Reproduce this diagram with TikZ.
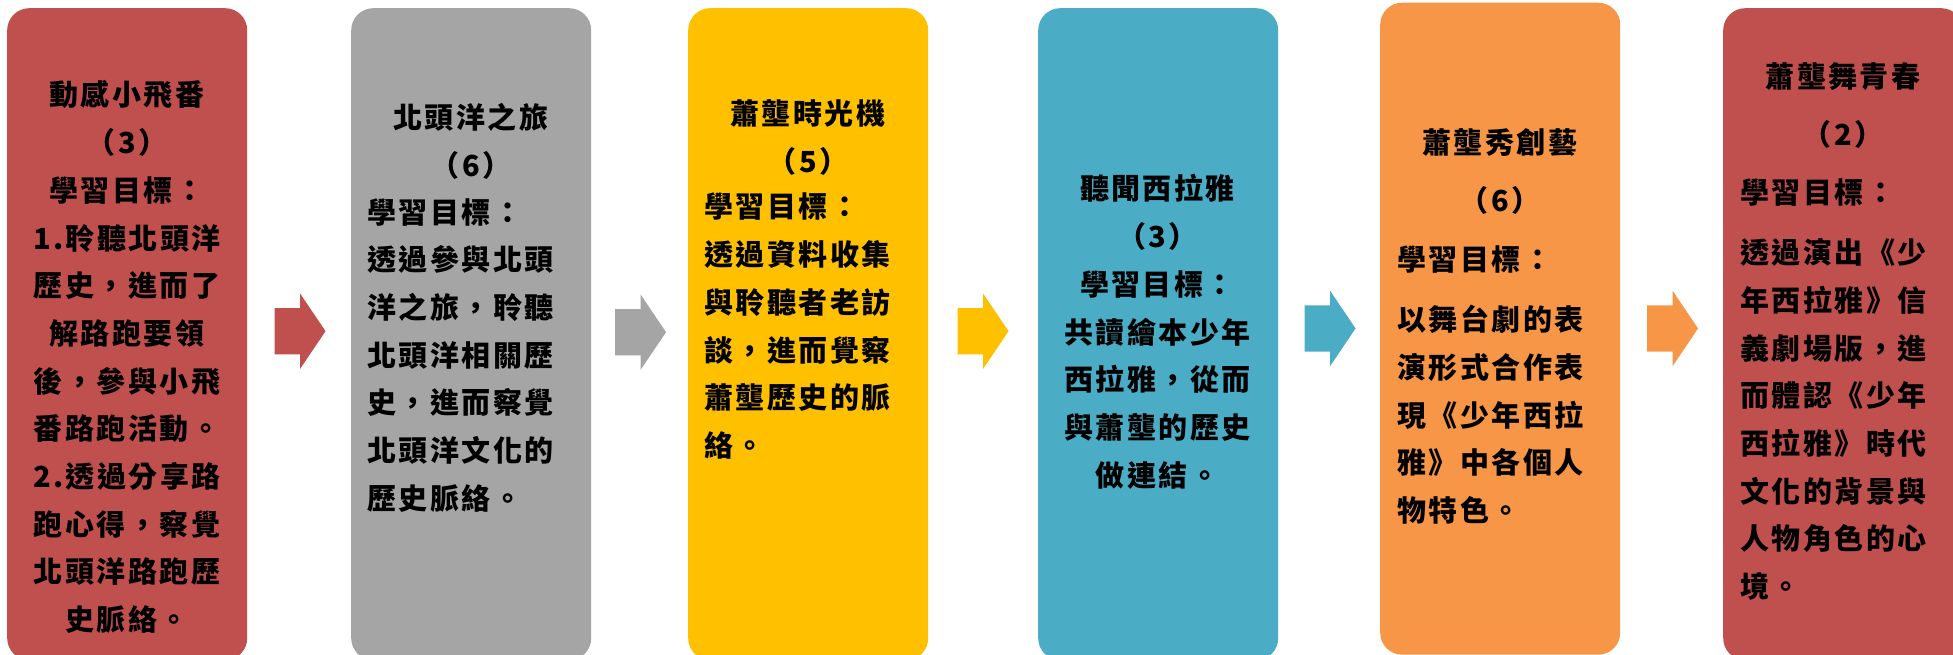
\documentclass[tikz,border=0pt]{standalone}
\usepackage{fontspec}
\usepackage{tikz}
\usetikzlibrary{shapes.arrows,positioning,calc}
\newfontfamily\cjk{Noto Sans CJK TC}[LetterSpace=8.6]
\definecolor{boxred}{HTML}{C0504D}
\definecolor{boxgray}{HTML}{A5A5A5}
\definecolor{boxgold}{HTML}{FFC000}
\definecolor{boxteal}{HTML}{4BACC6}
\definecolor{boxorange}{HTML}{F79646}

\begin{document}
\begin{tikzpicture}[x=1pt, y=-1pt,
    stage/.style={rounded corners=22pt, minimum width=240pt, minimum height=652pt,
                  anchor=north west, inner sep=0pt},
    flow/.style={single arrow, minimum height=51pt, inner xsep=0pt, inner ysep=23pt,
                 single arrow head extend=14.5pt, single arrow tip angle=112},
    words/.style={font=\cjk\bfseries\fontsize{29}{47.7}\selectfont, inner sep=0pt, text width=230pt},
    mid text/.style={words, align=center, anchor=base},
    left text/.style={words, align=left, anchor=base west}]
  \useasboundingbox (0,0) rectangle (1953,655);
  \node[stage, fill=boxred]    (b1) at (7,8) {};
  \node[stage, fill=boxgray]   (b2) at (351,8) {};
  \node[stage, fill=boxgold]   (b3) at (688,8) {};
  \node[stage, fill=boxteal]   (b4) at (1038,8) {};
  \node[stage, fill=boxorange] (b5) at (1380,2.5) {};
  \node[stage, fill=boxred]    (b6) at (1723,8) {};

  \node[flow, fill=boxred]  (a1) at ($(b1.east)!.5!(b2.west)+(-7,-3)$) {};
  \node[flow, fill=boxgray] (a2) at ($(b2.east)!.5!(b3.west)+(-7,-2)$) {};
  \node[flow, fill=boxgold] (a3) at ($(b3.east)!.5!(b4.west)+(-8,-3)$) {};
  \node[flow, fill=boxteal] (a4) at ($(b4.east)!.5!(b5.west)+(-7,-3)$) {};
  \node[flow, fill=boxorange] (a5) at ($(b5.east)!.5!(b6.west)+(-7,-3)$) {};

  \node[mid text] (t1) at (127,106) {動感小飛番\\（3）\\學習目標：\\1.聆聽北頭洋\\歷史，進而了\\解路跑要領\\後，參與小飛\\番路跑活動。\\2.透過分享路\\跑心得，察覺\\北頭洋路跑歷\\史脈絡。};

  \node[mid text] (h2) at (471,129) {北頭洋之旅\\（6）};
  \node[left text] (t2) at (367,223) {學習目標：\\透過參與北頭\\洋之旅，聆聽\\北頭洋相關歷\\史，進而察覺\\北頭洋文化的\\歷史脈絡。};

  \node[mid text] (h3) at (808,125) {蕭壟時光機\\（5）};
  \node[left text] (t3) at (704,218) {學習目標：\\透過資料收集\\與聆聽者老訪\\談，進而覺察\\蕭壟歷史的脈\\絡。};

  \node[mid text] (t4) at (1157.5,200) {聽聞西拉雅\\（3）\\學習目標：\\共讀繪本少年\\西拉雅，從而\\與蕭壟的歷史\\做連結。};

  \node[mid text, font=\cjk\bfseries\fontsize{29}{58}\selectfont] (h5) at (1500,154) {蕭壟秀創藝\\（6）};
  \node[left text] (t5) at (1397,270) {學習目標：\\[13pt]以舞台劇的表\\演形式合作表\\現《少年西拉\\雅》中各個人\\物特色。};

  \node[mid text, font=\cjk\bfseries\fontsize{29}{58}\selectfont] (h6) at (1843,88) {蕭壟舞青春\\（2）};
  \node[left text] (t6) at (1740,204) {學習目標：\\[12pt]透過演出《少\\年西拉雅》信\\義劇場版，進\\而體認《少年\\西拉雅》時代\\文化的背景與\\人物角色的心\\境。};
\end{tikzpicture}
\end{document}
